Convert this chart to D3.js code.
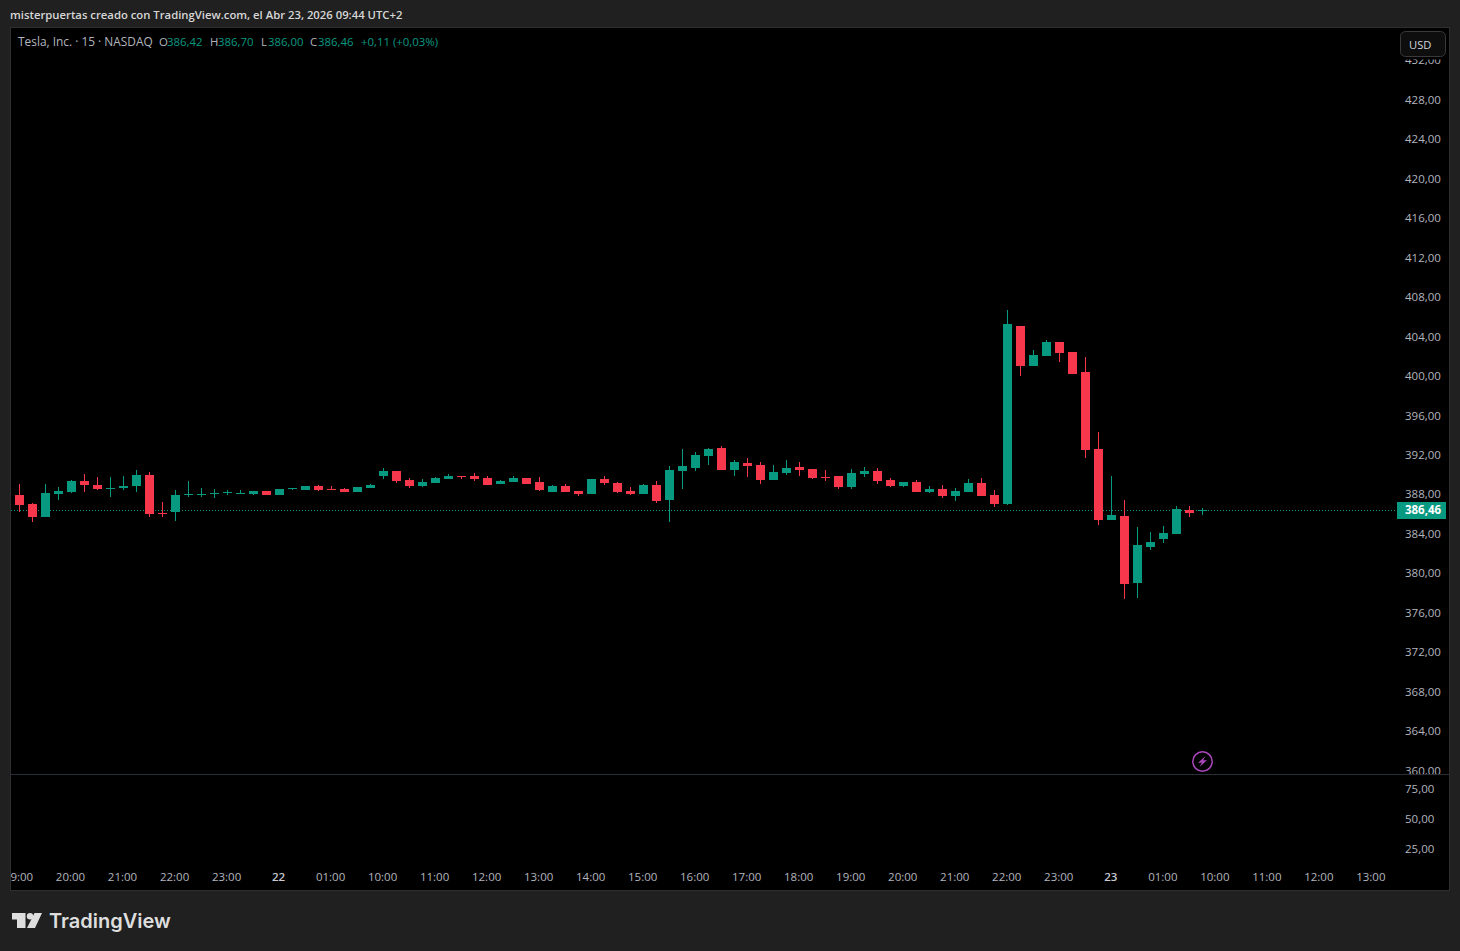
<!DOCTYPE html>
<html><head><meta charset="utf-8">
<script src="https://cdnjs.cloudflare.com/ajax/libs/d3/7.8.5/d3.min.js"></script>
<style>html,body{margin:0;padding:0;background:#202020;overflow:hidden}svg{display:block}text{font-family:"Open Sans","Noto Sans",sans-serif}</style>
</head><body><svg id="c" width="1460" height="951"></svg>
<script>
const opens =[387.80,388.03,387.12,385.80,388.14,388.34,389.45,389.05,388.64,388.74,388.95,390.06,386.21,386.31,388.03,388.03,388.14,388.24,388.14,388.14,388.44,388.03,388.64,388.54,388.95,388.64,388.64,388.34,388.74,389.96,390.47,389.55,388.95,389.25,389.66,389.96,389.96,389.76,389.15,389.35,389.76,389.35,388.34,388.95,388.44,388.14,389.66,389.25,388.44,388.14,389.05,387.53,390.47,390.77,391.99,392.80,390.57,391.28,391.07,389.55,390.26,390.87,390.67,389.86,389.96,388.84,390.16,390.47,389.55,388.95,389.35,388.34,388.64,387.93,388.34,389.25,388.03,387.12,405.16,401.11,402.12,403.54,402.53,400.50,392.70,385.50,385.91,379.12,382.76,383.57,384.08,386.51,386.42];
const highs =[388.03,389.15,387.22,389.15,388.84,389.55,390.16,389.86,389.86,389.96,390.57,390.36,387.32,388.54,389.45,388.74,388.64,388.54,388.54,388.44,388.44,388.64,388.74,388.95,389.05,388.95,388.74,388.84,389.15,390.77,390.47,389.76,389.66,389.86,390.16,389.96,390.26,389.96,389.55,389.96,389.76,389.86,389.05,389.15,388.44,389.66,389.96,389.35,388.84,389.15,389.45,390.97,392.70,392.39,392.80,393.00,391.58,391.78,391.38,391.07,391.58,391.38,390.67,390.57,389.96,390.67,390.87,390.77,389.76,389.35,389.55,388.95,389.05,388.74,389.66,389.76,388.54,406.78,405.16,402.73,403.74,403.54,402.53,402.02,394.42,389.96,387.53,384.79,384.28,384.89,386.92,386.92,386.70];
const lows  =[387.80,386.34,385.30,385.80,387.53,388.24,388.34,388.54,387.83,388.54,388.34,385.80,385.80,385.40,387.83,387.83,387.73,388.03,388.14,388.03,388.03,388.03,388.54,388.54,388.44,388.54,388.34,388.34,388.74,389.66,389.25,388.74,388.84,389.25,389.66,389.66,389.45,389.05,389.15,389.35,389.15,388.44,388.34,388.34,387.93,388.14,389.05,388.24,388.03,388.14,387.22,385.30,388.64,390.47,391.07,390.57,389.96,389.86,389.15,389.55,390.06,389.96,389.66,389.45,388.64,388.64,389.86,389.15,388.84,388.84,388.34,388.24,387.73,387.43,388.34,387.93,386.82,387.02,400.09,401.11,402.12,401.51,400.30,391.78,384.99,385.50,377.49,377.60,382.46,383.17,384.08,385.80,386.00];
const closes=[388.03,387.02,385.80,388.24,388.44,389.45,389.05,388.64,388.74,388.95,390.06,386.11,386.11,388.03,388.14,388.14,388.24,388.34,388.24,388.44,388.03,388.64,388.74,388.95,388.54,388.54,388.34,388.84,389.05,390.47,389.45,388.95,389.35,389.76,389.96,389.86,389.66,389.05,389.45,389.76,389.15,388.54,388.95,388.34,388.14,389.66,389.25,388.34,388.14,389.05,387.43,390.57,390.97,392.09,392.70,390.57,391.38,390.97,389.55,390.36,390.77,390.57,389.76,389.76,388.84,390.26,390.47,389.45,388.95,389.35,388.34,388.64,387.93,388.44,389.25,387.93,387.12,405.36,401.11,402.22,403.54,402.43,400.30,392.59,385.50,386.01,379.01,382.97,383.27,384.18,386.62,386.21,386.46];
const firstIndex=-1;
const lastPrice=386.46;
const priceTicks=[432,428,424,420,416,412,408,404,400,396,392,388,384,380,376,372,368,364,360];
const volumeTicks=[75,50,25];
const timeTickIndex=[0,4,8,12,16,20,24,28,32,36,40,44,48,52,56,60,64,68,72,76,80,84,88,92,96,100,104];
const timeTickLabels=["19:00","20:00","21:00","22:00","23:00","22","01:00","10:00","11:00","12:00","13:00","14:00","15:00","16:00","17:00","18:00","19:00","20:00","21:00","22:00","23:00","23","01:00","10:00","11:00","12:00","13:00"];
const boldLabels=["22","23"];
const titleText="misterpuertas creado con TradingView.com, el Abr 23, 2026 09:44 UTC+2";
const legendParts=[["Tesla, Inc. · 15 · NASDAQ",0],["O",0],["386,42",1],["H",0],["386,70",1],["L",0],["386,00",1],["C",0],["386,46",1],["+0,11 (+0,03%)",1]];
const legendX=[18,159,167,210,218,261,268,310,318,361];

const UP="#089981",DOWN="#F7374B",AX="#b2b5be";
const fmt=v=>v.toFixed(2).replace(".",",");
const svg=d3.select("#c");
const defs=svg.append("defs");
defs.append("clipPath").attr("id","plot").append("rect").attr("x",11).attr("y",28).attr("width",1438).attr("height",746);
defs.append("clipPath").attr("id","time").append("rect").attr("x",11).attr("y",860).attr("width",1385).attr("height",30);
defs.append("clipPath").attr("id","pa").append("rect").attr("x",1396).attr("y",59.5).attr("width",53).attr("height",714.5);

svg.append("text").attr("x",10).attr("y",19).attr("fill","#d6d6d6").attr("font-size",11.3).attr("font-weight",600).text(titleText);
svg.append("rect").attr("x",10.5).attr("y",27.5).attr("width",1439).attr("height",863).attr("fill","#000").attr("stroke","#2e2e2e");

const x=d3.scaleLinear().domain([0,91]).range([19.5,1202.5]);
const y=d3.scaleLinear().domain([388,428]).range([495.3,100.5]);
const yV=d3.scaleLinear().domain([25,75]).range([848.5,788.5]);
const data=opens.map((o,k)=>({i:k+firstIndex,o,h:highs[k],l:lows[k],c:closes[k]}));

// price axis
const gy=svg.append("g").attr("clip-path","url(#pa)").append("g").attr("transform","translate(1405,-1)")
 .call(d3.axisRight(y).tickValues(priceTicks).tickFormat(fmt).tickSize(0).tickPadding(0));
gy.select(".domain").remove();
gy.selectAll("text").attr("fill",AX).attr("font-size",11.5);
const gv=svg.append("g").attr("transform","translate(1405,0)")
 .call(d3.axisRight(yV).tickValues(volumeTicks).tickFormat(fmt).tickSize(0).tickPadding(0));
gv.select(".domain").remove();
gv.selectAll("text").attr("fill",AX).attr("font-size",11.5);

// time axis
const gt=svg.append("g").attr("clip-path","url(#time)").append("g").attr("transform","translate(-1.5,873)")
 .call(d3.axisBottom(x).tickValues(timeTickIndex.map((d,k)=>d+k/1000)).tickFormat((d,k)=>timeTickLabels[k]).tickSize(0).tickPadding(0));
gt.select(".domain").remove();
gt.selectAll("text").attr("fill",(d,k)=>boldLabels.includes(timeTickLabels[k])?"#c8cbd2":AX).attr("font-size",11.5)
 .attr("font-weight",(d,k)=>boldLabels.includes(timeTickLabels[k])?600:400);

// separator
svg.append("line").attr("x1",11).attr("x2",1449).attr("y1",774.5).attr("y2",774.5).attr("stroke","#2a2e39");

// candles
const plot=svg.append("g").attr("clip-path","url(#plot)");
plot.append("line").attr("x1",11).attr("x2",1397).attr("y1",Math.round(y(lastPrice))+.5).attr("y2",Math.round(y(lastPrice))+.5)
 .attr("stroke",UP).attr("stroke-dasharray","1 2");
const col=d=>d.c>=d.o?UP:DOWN;
const cand=plot.selectAll("g.k").data(data).join("g").attr("class","k");
cand.append("rect").attr("x",d=>x(d.i)-.5).attr("width",1).attr("y",d=>Math.round(y(d.h))).attr("height",d=>Math.max(1,Math.round(y(d.l))-Math.round(y(d.h)))).attr("fill",col).attr("shape-rendering","crispEdges");
cand.append("rect").attr("x",d=>x(d.i)-4.5).attr("width",9)
 .attr("y",d=>Math.round(y(Math.max(d.o,d.c))))
 .attr("height",d=>Math.max(1,Math.round(y(Math.min(d.o,d.c)))-Math.round(y(Math.max(d.o,d.c)))))
 .attr("fill",col).attr("shape-rendering","crispEdges");

// last price label
svg.append("rect").attr("x",1397).attr("y",502).attr("width",49).attr("height",17).attr("fill",UP);
svg.append("text").attr("x",1405).attr("y",514).attr("fill","#fff").attr("font-size",11.5).attr("font-weight",700).attr("textLength",36).text(fmt(lastPrice));

// legend
legendParts.forEach((p,k)=>svg.append("text").attr("x",legendX[k]).attr("y",46).attr("font-size",k===0?11.9:11.4).attr("fill",p[1]?UP:"#b2b5be").text(p[0]));

// USD button
svg.append("rect").attr("x",1400.5).attr("y",31.5).attr("width",45).attr("height",25).attr("rx",5).attr("fill","#0e0e0e").attr("stroke","#3a3a3a");
svg.append("text").attr("x",1409).attr("y",48.5).attr("font-size",11.2).attr("fill","#d1d4dc").text("USD");

// lightning
const ic=svg.append("g").attr("transform","translate(1202.5,761.5)");
ic.append("circle").attr("r",9.7).attr("fill","none").attr("stroke","#ab47bc").attr("stroke-width",1.5);
ic.append("path").attr("d","M3,-5.5 L-4.5,1.2 L-0.7,1.2 L-3,5.5 L4.5,-1.2 L0.7,-1.2 Z").attr("fill","#ab47bc");

// logo
const lg=svg.append("g").attr("transform","translate(12,913)").attr("fill","#dedede");
lg.append("path").attr("d","M0,0 H13.5 V15 H5 V6.5 H0 Z");
lg.append("circle").attr("cx",18).attr("cy",3.2).attr("r",3.2);
lg.append("path").attr("d","M22.5,0 H30 L23,15 H15 Z");
svg.append("text").attr("x",49).attr("y",928).attr("font-size",20).attr("font-weight",600).attr("fill","#dedede").style("font-family","Inter").text("TradingView");
</script></body></html>
